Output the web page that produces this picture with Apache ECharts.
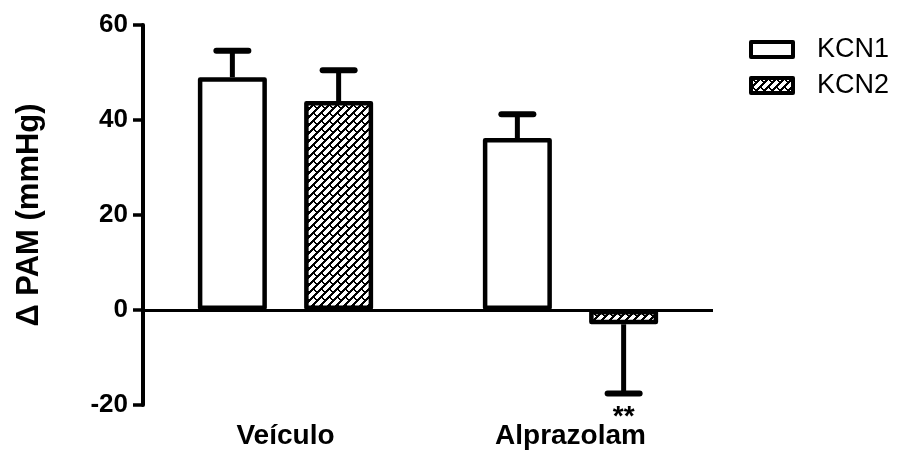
<!DOCTYPE html>
<html>
<head>
<meta charset="utf-8">
<script src="https://cdn.jsdelivr.net/npm/echarts@6/dist/echarts.min.js"></script>
<style>
html,body{margin:0;padding:0;background:#fff;}
#chart{width:898px;height:450px;}
</style>
</head>
<body>
<div id="chart"></div>
<script>
// ---- data ----
var categories = ['Veículo', 'Alprazolam'];
var seriesNames = ['KCN1', 'KCN2'];
var kcn1Mean = [49, 36.2];
var kcn1Err = [5.6, 5.0];
var kcn2Mean = [44, -3];
var kcn2Err = [6.5, 14.6];
var kcn1Sig = ['', ''];
var kcn2Sig = ['', '**'];
var yTicks = { min: -20, max: 60, interval: 20 };
var yAxisName = 'Δ PAM (mmHg)';

// ---- styling ----
var FONT = '"Liberation Sans", Arial, sans-serif';
var BAR_W = 69;
var BAR_GAP = 0.54;
var OFFSET = (BAR_W + BAR_W * BAR_GAP) / 2;

function makePattern() {
  var T = 16, p = 8, q = 16, th = 3, thc = 2;
  var c = document.createElement('canvas');
  c.width = T; c.height = T;
  var ctx = c.getContext('2d');
  var img = ctx.createImageData(T, T);
  for (var y = 0; y < T; y++) {
    for (var x = 0; x < T; x++) {
      var u = x + y;
      var r = Math.floor(u / p);
      var v = x - y + T * 10;
      var off = (r % 2) * (q / 2);
      var black = (u % p) < th || ((v + off) % q) < thc;
      var i = (y * T + x) * 4;
      var val = black ? 0 : 255;
      img.data[i] = val; img.data[i + 1] = val; img.data[i + 2] = val; img.data[i + 3] = 255;
    }
  }
  ctx.putImageData(img, 0, 0);
  return c;
}
var hatch = { image: makePattern(), repeat: 'repeat' };

function errData(means, errs) {
  return means.map(function (m, i) { return [i, m, errs[i]]; });
}

function errRender(dir, sigArr) {
  return function (params, api) {
    var ci = api.value(0), m = api.value(1), e = api.value(2);
    var sig = sigArr[params.dataIndex];
    var cx = api.coord([ci, 0])[0] + dir * OFFSET;
    var y0 = api.coord([ci, m])[1];
    var sign = m >= 0 ? 1 : -1;
    var y1 = api.coord([ci, m + sign * e])[1];
    var children = [
      { type: 'line', shape: { x1: cx, y1: y0, x2: cx, y2: y1 }, style: { stroke: '#000', lineWidth: 5 } },
      { type: 'line', shape: { x1: cx - 16, y1: y1, x2: cx + 16, y2: y1 }, style: { stroke: '#000', lineWidth: 6, lineCap: 'round' } }
    ];
    if (sig) {
      children.push({ type: 'text', style: { text: sig, x: cx, y: y1 + 10, align: 'center', verticalAlign: 'top', font: 'bold 28px ' + FONT, fill: '#000' } });
    }
    return { type: 'group', children: children };
  };
}

var chart = echarts.init(document.getElementById('chart'), null, { renderer: 'canvas' });
chart.setOption({
  animation: false,
  backgroundColor: '#fff',
  grid: { left: 143, right: 185, top: 25, bottom: 45, containLabel: false },
  legend: {
    orient: 'vertical', left: 744, top: 31, itemWidth: 42, itemHeight: 15, itemGap: 9,
    icon: 'rect',
    data: seriesNames,
    itemStyle: { borderWidth: 4, borderColor: '#000' },
    textStyle: { fontSize: 27, color: '#000', fontFamily: FONT, padding: [0, 0, 0, 19] }
  },
  xAxis: {
    type: 'category', data: categories,
    axisLine: { show: false }, axisTick: { show: false },
    axisLabel: { color: '#000', fontSize: 28, fontWeight: 'bold', fontFamily: FONT, margin: 17 }
  },
  yAxis: {
    type: 'value', min: yTicks.min, max: yTicks.max, interval: yTicks.interval,
    name: yAxisName, nameLocation: 'middle', nameGap: 98,
    nameTextStyle: { color: '#000', fontSize: 31, fontWeight: 'bold', fontFamily: FONT },
    splitLine: { show: false },
    axisLine: { show: true, lineStyle: { color: '#000', width: 4 } },
    axisTick: { show: true, length: 10, lineStyle: { color: '#000', width: 3.5 } },
    axisLabel: { color: '#000', fontSize: 26, fontWeight: 'bold', fontFamily: FONT, margin: 15 }
  },
  series: [
    {
      name: 'KCN1', type: 'bar', data: kcn1Mean, barWidth: BAR_W, barGap: (BAR_GAP * 100) + '%',
      itemStyle: { color: '#fff', borderColor: '#000', borderWidth: 4.5, borderJoin: 'round' },
      z: 3,
      markLine: {
        silent: true, symbol: 'none', label: { show: false },
        lineStyle: { color: '#000', width: 3, type: 'solid' },
        data: [{ yAxis: 0 }]
      }
    },
    {
      name: 'KCN2', type: 'bar', data: kcn2Mean, barWidth: BAR_W,
      itemStyle: { color: hatch, borderColor: '#000', borderWidth: 4.5, borderJoin: 'round' },
      z: 3
    },
    {
      type: 'custom', name: 'KCN1', renderItem: errRender(-1, kcn1Sig), data: errData(kcn1Mean, kcn1Err),
      encode: { x: 0, y: 1 }, z: 2, silent: true
    },
    {
      type: 'custom', name: 'KCN2', renderItem: errRender(1, kcn2Sig), data: errData(kcn2Mean, kcn2Err),
      encode: { x: 0, y: 1 }, z: 2, silent: true
    }
  ]
});
</script>
</body>
</html>
